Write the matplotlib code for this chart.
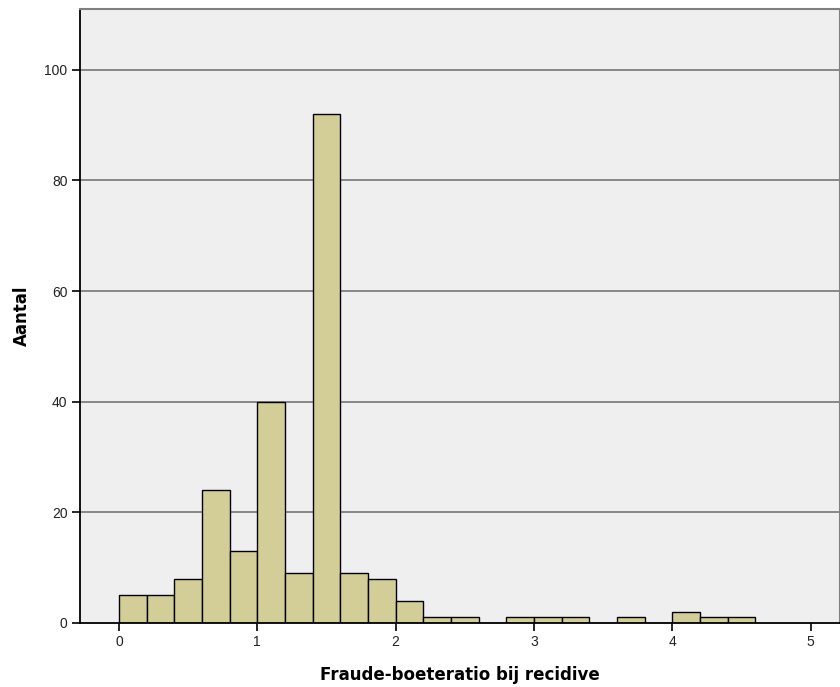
import numpy as np
import matplotlib.pyplot as plt

# histogram data: left edge of each bin (width 0.2) and count
bin_left = [0.0, 0.2, 0.4, 0.6, 0.8, 1.0, 1.2, 1.4, 1.6, 1.8, 2.0, 2.2,
            2.4, 2.6, 2.8, 3.0, 3.2, 3.4, 3.6, 3.8, 4.0, 4.2, 4.4]
counts = [5, 5, 8, 24, 13, 40, 9, 92, 9, 8, 4, 1,
          1, 0, 1, 1, 1, 0, 1, 0, 2, 1, 1]
bin_width = 0.2

x_ticks = [0, 1, 2, 3, 4, 5]
y_ticks = [0, 20, 40, 60, 80, 100]

plt.rcParams['font.family'] = ['Liberation Sans', 'DejaVu Sans']

fig = plt.figure(figsize=(8.4, 6.87), dpi=100)
ax = fig.add_axes([80 / 840, 1 - 623 / 687, 1 - 80 / 840, (623 - 9) / 687])
ax.set_facecolor('#EFEFEF')

# gridlines
for y in y_ticks[1:]:
    ax.axhline(y, color='#808080', linewidth=1.3, zorder=1)

ax.bar(bin_left, counts, width=bin_width, align='edge', color='#D3CE97',
       edgecolor='black', linewidth=1.0, zorder=2)

ax.set_xlim(-0.282, 5.213)
ax.set_ylim(0, 111)
ax.set_xticks(x_ticks)
ax.set_yticks(y_ticks)
ax.tick_params(direction='out', length=6, width=1.2, color='black',
               labelsize=10, labelcolor='#222222', pad=3)

for side in ['top', 'right']:
    ax.spines[side].set_color('#808080')
    ax.spines[side].set_linewidth(1.5)
for side in ['left', 'bottom']:
    ax.spines[side].set_color('black')
    ax.spines[side].set_linewidth(1.3)

ax.set_xlabel('Fraude-boeteratio bij recidive', fontsize=12, fontweight='bold',
              family=['DejaVu Sans'], labelpad=12)
ax.set_ylabel('Aantal', fontsize=12, fontweight='bold',
              family=['DejaVu Sans'], labelpad=10)

fig.savefig('out.png', dpi=100)
